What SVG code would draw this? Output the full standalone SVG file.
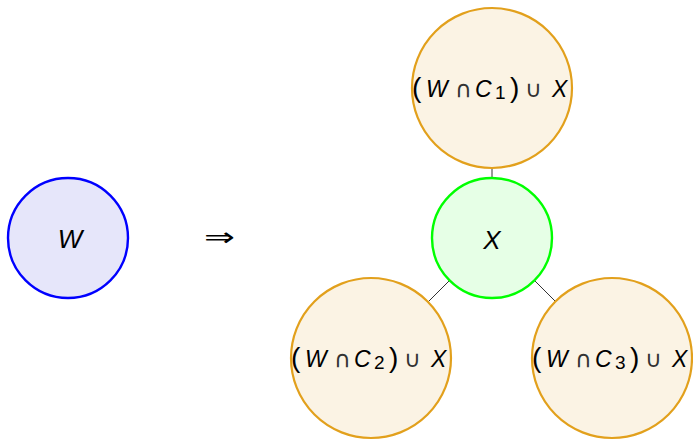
<svg xmlns="http://www.w3.org/2000/svg" width="693" height="441" viewBox="0 0 693 441">
<style>
.lbl{font-family:"Liberation Sans",Arial,sans-serif;fill:#000}
.big{font-size:26px;font-style:italic;text-anchor:middle}
.m{font-size:23px}
.i{font-style:italic}
.p{font-size:28px}
.sub{font-size:19px}
.op{font-family:"DejaVu Sans",sans-serif;font-size:23px;fill:#333}
.orange{fill:#fbf3e4;stroke:#e2a01c;stroke-width:2.2}
.edge{stroke:#333;stroke-width:1;fill:none}
</style>
<g id="connectors">
<line class="edge" x1="492" y1="168" x2="492" y2="178"/>
<line class="edge" x1="449" y1="281" x2="428" y2="302"/>
<line class="edge" x1="535" y1="281" x2="556" y2="302"/>
</g>
<g id="node-W">
<circle cx="68" cy="238" r="60" fill="#e6e6fa" stroke="#0000ff" stroke-width="2.4"/>
<text class="lbl big" x="70" y="248">W</text>
</g>
<g id="implies">
<text class="lbl" x="204" y="246" textLength="31" lengthAdjust="spacingAndGlyphs" style="font-family:'DejaVu Sans',sans-serif;font-size:26px">⇒</text>
</g>
<g id="node-X">
<circle cx="492" cy="238" r="60" fill="#e6ffe6" stroke="#00ff00" stroke-width="2.4"/>
<text class="lbl big" x="492" y="249">X</text>
</g>
<g id="node-C1">
<circle class="orange" cx="492" cy="88" r="80"/>
<text class="lbl m" transform="translate(492 97)" y="0"><tspan class="p" x="-80">(</tspan><tspan class="i" x="-66">W</tspan><tspan class="op" x="-37">∩</tspan><tspan class="i" x="-17">C</tspan><tspan class="sub" x="3" dy="2">1</tspan><tspan class="p" x="18" dy="-2">)</tspan><tspan class="op" x="33">∪</tspan><tspan class="i" x="60">X</tspan></text>
</g>
<g id="node-C2">
<circle class="orange" cx="371" cy="358" r="80"/>
<text class="lbl m" transform="translate(371 367)" y="0"><tspan class="p" x="-80">(</tspan><tspan class="i" x="-66">W</tspan><tspan class="op" x="-37">∩</tspan><tspan class="i" x="-17">C</tspan><tspan class="sub" x="3" dy="2">2</tspan><tspan class="p" x="18" dy="-2">)</tspan><tspan class="op" x="33">∪</tspan><tspan class="i" x="60">X</tspan></text>
</g>
<g id="node-C3">
<circle class="orange" cx="612" cy="358" r="80"/>
<text class="lbl m" transform="translate(612 367)" y="0"><tspan class="p" x="-80">(</tspan><tspan class="i" x="-66">W</tspan><tspan class="op" x="-37">∩</tspan><tspan class="i" x="-17">C</tspan><tspan class="sub" x="3" dy="2">3</tspan><tspan class="p" x="18" dy="-2">)</tspan><tspan class="op" x="33">∪</tspan><tspan class="i" x="60">X</tspan></text>
</g>
</svg>
